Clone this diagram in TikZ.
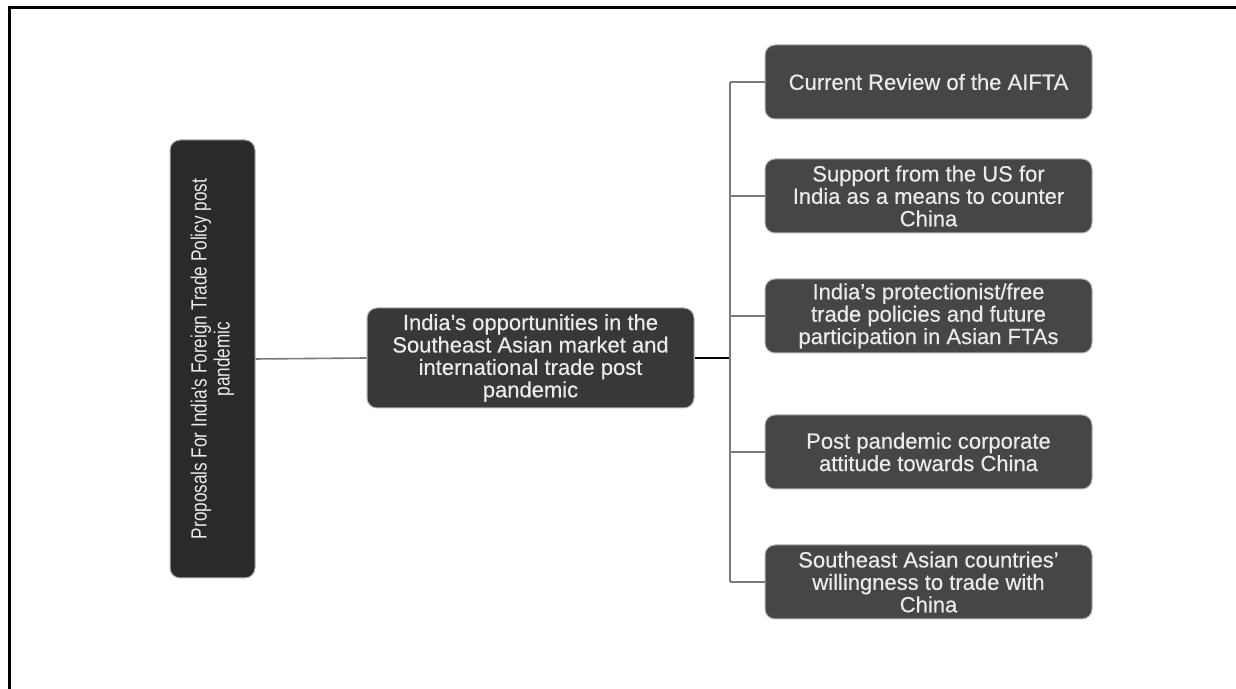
\documentclass[tikz,border=0pt]{standalone}
\usepackage{fontspec}
\setmainfont{Liberation Sans}[FakeBold=0.4]
\newfontfamily\narrowfont{Liberation Sans}[FakeStretch=0.78]

\usetikzlibrary{positioning}

\definecolor{boxdark}{HTML}{2A2A2A}
\definecolor{boxmid}{HTML}{383838}
\definecolor{boxlight}{HTML}{464646}
\definecolor{linkgray}{HTML}{7A7A7A}

\begin{document}
\begin{tikzpicture}[x=0.5pt, y=0.5pt,
    topicbox/.style={rectangle, rounded corners=5pt, draw=gray!60, line width=0.5pt, text=white!92!black, align=center, inner sep=2pt},
    rootbox/.style={topicbox, fill=boxdark, rotate=90, minimum width=219pt, minimum height=42.5pt, font=\narrowfont\fontsize{11}{11.5}\selectfont},
    hubbox/.style={topicbox, fill=boxmid, minimum width=163.5pt, minimum height=50pt, font=\fontsize{11}{11.2}\selectfont},
    leafbox/.style={topicbox, fill=boxlight, minimum width=163.5pt, minimum height=37pt, font=\fontsize{11}{11.2}\selectfont},
    link/.style={draw=linkgray, line width=0.8pt},]
    \useasboundingbox (0,0) rectangle (1236,689);
    % frame
    \draw[line width=1.5pt] (9,0) -- (9,681) -- (1236,681);
    % nodes
    \node[rootbox] (root) at (212.5,330) {Proposals For India's Foreign Trade Policy post\\ pandemic};
    \node[hubbox]  (hub)  at (530.5,331) {India's opportunities in the\\ Southeast Asian market and\\ international trade post\\ pandemic};
    \coordinate (bus) at (730,331);
    \node[leafbox] (r1) at (928.5,607) {Current Review of the AIFTA};
    \node[leafbox] (r2) at (928.5,493) {Support from the US for\\ India as a means to counter\\ China};
    \node[leafbox] (r3) at (928.5,373) {India's protectionist/free\\ trade policies and future\\ participation in Asian FTAs};
    \node[leafbox] (r4) at (928.5,237) {Post pandemic corporate\\ attitude towards China};
    \node[leafbox] (r5) at (928.5,107) {Southeast Asian countries'\\ willingness to trade with\\ China};
    % lines
    \draw[link] (root.south) -- (hub.west);
    \draw[line width=1pt] (hub.east) -- (bus);
    \draw[link] (bus |- r1) -- (bus |- r5);
    \foreach \i in {1,...,5}
        \draw[link] (bus |- r\i) -- (r\i.west);
\end{tikzpicture}
\end{document}
